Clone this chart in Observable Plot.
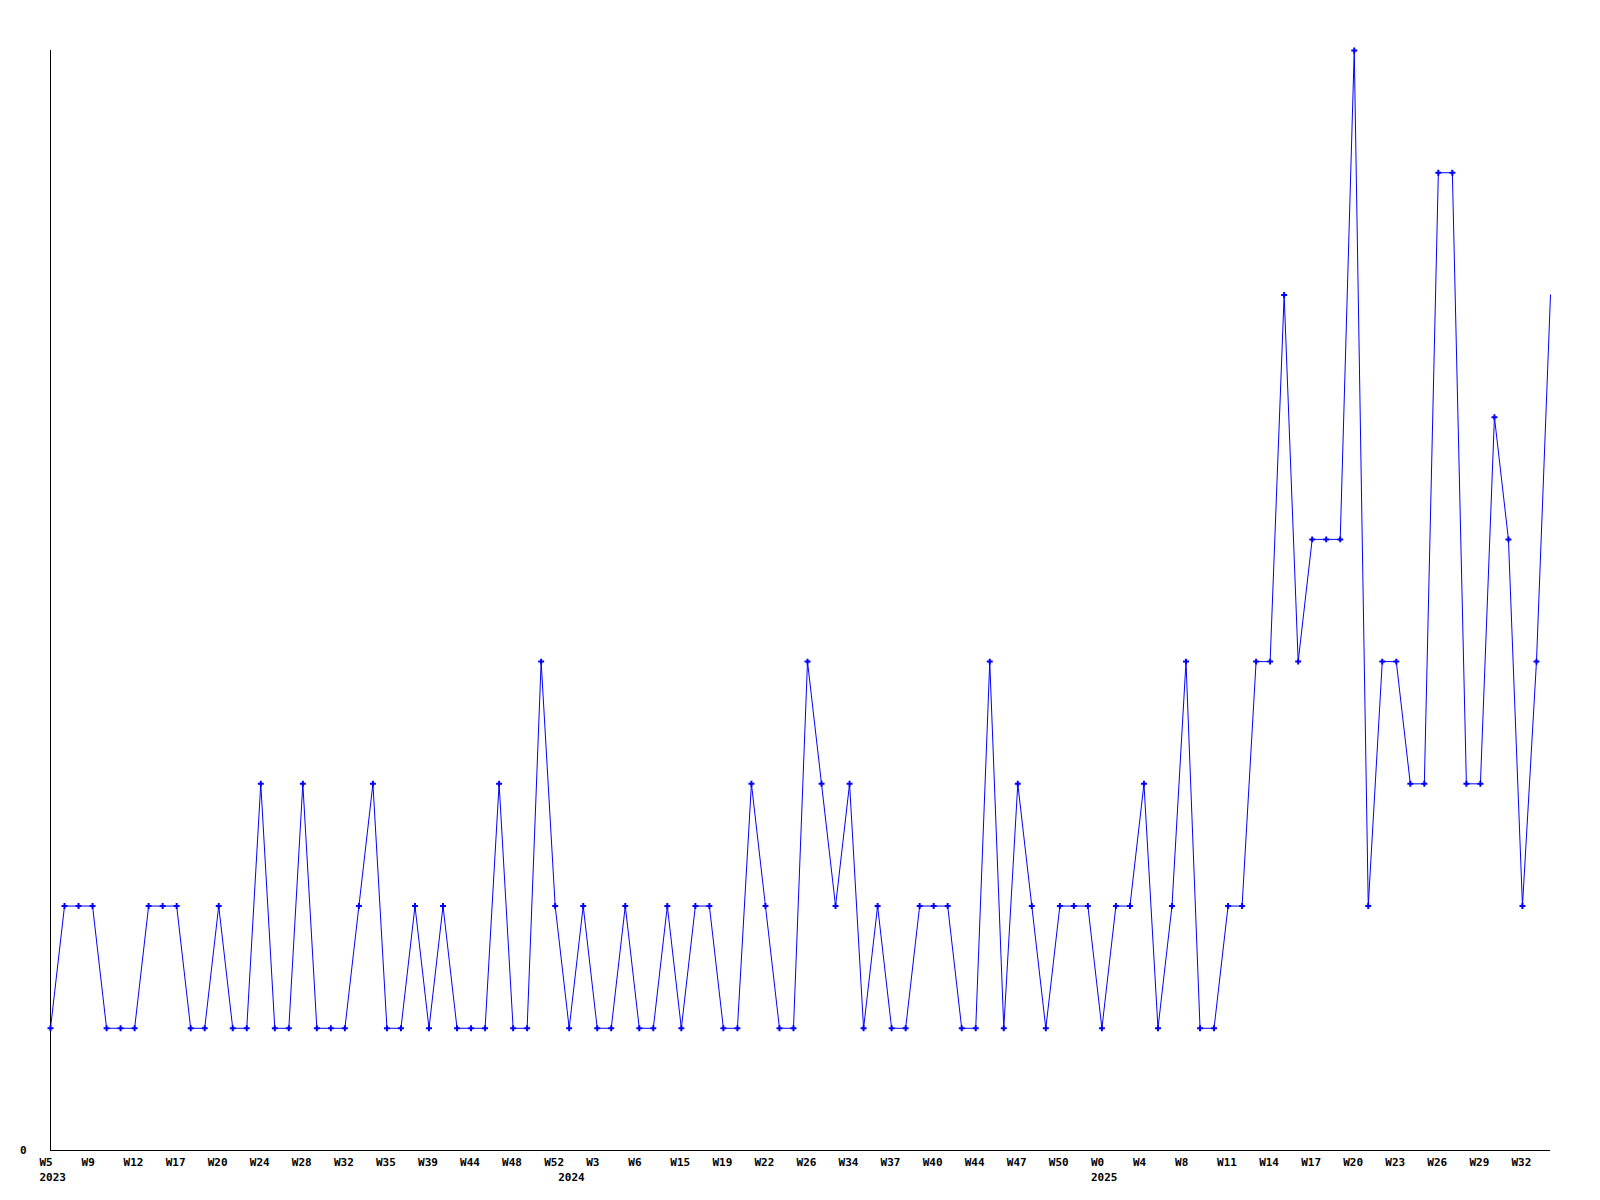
<!DOCTYPE html>
<html>
<head>
<meta charset="utf-8">
<script src="https://cdn.jsdelivr.net/npm/d3@7"></script>
<script src="https://cdn.jsdelivr.net/npm/@observablehq/plot@0.6"></script>
<style>
  html, body { margin: 0; padding: 0; background: #fff; }
  #chart svg { display: block; }
</style>
</head>
<body>
<div id="chart"></div>
<script>
// Weekly values (index = week position along the axis)
const values = [
  1,2,2,2,1,1,1,2,2,2,
  1,1,2,1,1,3,1,1,3,1,
  1,1,2,3,1,1,2,1,2,1,
  1,1,3,1,1,4,2,1,2,1,
  1,2,1,1,2,1,2,2,1,1,
  3,2,1,1,4,3,2,3,1,2,
  1,1,2,2,2,1,1,4,1,3,
  2,1,2,2,2,1,2,2,3,1,
  2,4,1,1,2,2,4,4,7,4,
  5,5,5,9,2,4,4,3,3,8,
  8,3,3,6,5,2,4,7
];

// Week tick labels, one every 3 points
const weekLabels = [
  "W5","W9","W12","W17","W20","W24","W28","W32","W35","W39","W44","W48",
  "W52","W3","W6","W15","W19","W22","W26","W34","W37","W40","W44","W47","W50",
  "W0","W4","W8","W11","W14","W17","W20","W23","W26","W29","W32"
];
const weekTickStep = 3;

// Year labels and the point index they sit under
const yearLabels = ["2023", "2024", "2025"];
const yearIndex = [0, 37, 75];

const data = values.map((v, i) => ({i, v}));
const weekTicks = weekLabels.map((_, k) => k * weekTickStep);
const weekMap = new Map(weekTicks.map((t, k) => [t, weekLabels[k]]));
const yearMap = new Map(yearIndex.map((t, k) => [t, yearLabels[k]]));

const blue = "#0000ff";

const chart = Plot.plot({
  width: 1600,
  height: 1200,
  marginLeft: 50,
  marginRight: 50,
  marginTop: 50,
  marginBottom: 50,
  style: {
    fontFamily: "'DejaVu Sans Mono', monospace",
    fontSize: "11px",
    fontWeight: "bold",
    color: "#000",
    background: "#fff"
  },
  x: {domain: [0, values.length - 1], label: null},
  y: {domain: [0, 9], label: null},
  marks: [
    Plot.axisX(weekTicks, {
      tickSize: 0, tickPadding: 8, textAnchor: "start", dx: -11, label: null,
      tickFormat: d => weekMap.get(d), fill: "#000", fontWeight: "bold"
    }),
    Plot.axisX(yearIndex, {
      tickSize: 0, tickPadding: 23, textAnchor: "start", dx: -11, label: null,
      tickFormat: d => yearMap.get(d), fill: "#000", fontWeight: "bold"
    }),
    Plot.axisY([0], {
      tickSize: 0, tickPadding: 24, dy: 0, label: null,
      tickFormat: d => String(d), fill: "#000", fontWeight: "bold"
    }),
    Plot.ruleX([0], {stroke: "#000", strokeWidth: 1}),
    Plot.ruleY([0], {stroke: "#000", strokeWidth: 1}),
    Plot.line(data, {x: "i", y: "v", stroke: blue, strokeWidth: 1}),
    Plot.dot(data.slice(0, -1), {x: "i", y: "v", symbol: "cross", r: 2.5, fill: blue, stroke: "none"})
  ]
});

document.getElementById("chart").appendChild(chart);
</script>
</body>
</html>
